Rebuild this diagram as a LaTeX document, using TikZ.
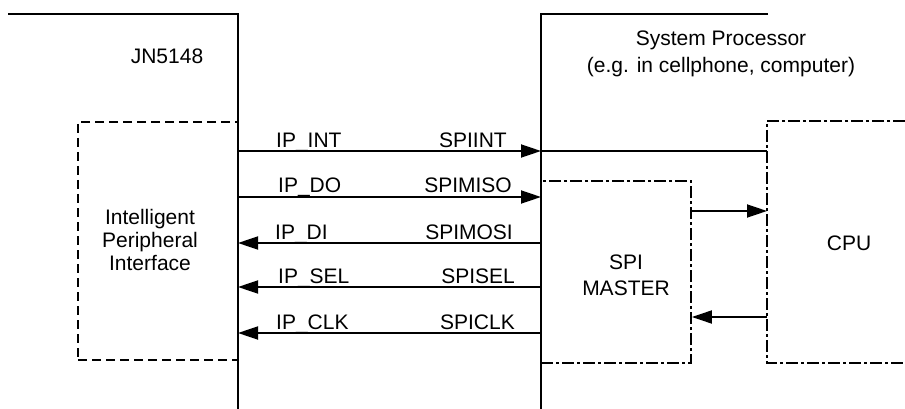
\documentclass[tikz,border=0pt]{standalone}
\usepackage{fontspec}
\setmainfont{Liberation Sans}
\usetikzlibrary{arrows.meta, positioning}

\begin{document}
\begin{tikzpicture}[
    x=1pt, y=-1pt,
    every node/.style={font=\fontsize{21}{23}\selectfont, inner sep=0pt},
    chip/.style={line width=2pt},
    ipbox/.style={draw, line width=2.8pt, dash pattern=on 9pt off 5pt},
    spibox/.style={draw, line width=1.8pt, dash pattern=on 12pt off 3pt on 3pt off 3pt},
    sig/.style={line width=1.8pt},
    arr/.style={sig, -{Triangle[length=20pt, width=13pt]}},
    lbl/.style={anchor=base west},
    rlbl/.style={anchor=base east},
]

\useasboundingbox (0,0) rectangle (905,409);

% JN5148 side
\draw[chip] (8,14) -- (238,14) -- (238,409);
\node (jn) at (167,56) {JN5148};
\node[ipbox, minimum width=160pt, minimum height=238pt] (ipi) at (158,241) {};
\node[align=center] (ipitxt) at (150,240) {Intelligent\\Peripheral\\Interface};

% system processor side
\draw[chip] (768,14) -- (541,14) -- (541,409);
\node[align=center, font=\fontsize{21}{27}\selectfont] (sys) at (721,54) {System Processor\\(e.g. in cellphone, computer)};
\node[spibox, minimum width=150pt, minimum height=182pt] (spi) at (616,272) {};
\node[align=center, font=\fontsize{21}{26}\selectfont] (spitxt) at (626,275) {SPI\\MASTER};
\draw[spibox] (905,121) -- (767,121) -- (767,363) -- (905,363);
\node (cpu) at (849,243) {CPU};

% pins
\coordinate (ipINT) at (238,151);
\coordinate (spINT) at (541,151);
\coordinate (cpuINT) at (767,151);
\coordinate (ipDO) at (238,197);
\coordinate (spDO) at (541,197);
\coordinate (ipDI) at (238,243);
\coordinate (spDI) at (541,243);
\coordinate (ipSEL) at (238,287);
\coordinate (spSEL) at (541,287);
\coordinate (ipCLK) at (238,333);
\coordinate (spCLK) at (541,333);
\coordinate (cpuIn) at (767,211);
\coordinate (cpuOut) at (767,317);

\draw[arr] (ipINT) -- (spINT);
\draw[sig] (spINT) -- (cpuINT);
\draw[arr] (ipDO) -- (spDO);
\draw[arr] (spDI) -- (ipDI);
\draw[arr] (spSEL) -- (ipSEL);
\draw[arr] (spCLK) -- (ipCLK);
\draw[arr] (spi.east |- cpuIn) -- (cpuIn);
\draw[arr] (cpuOut) -- (spi.east |- cpuOut);

\node[lbl] (lINT) at (276,147) {IP\_INT};
\node[rlbl] (rINT) at (507,147) {SPIINT};
\node[lbl] (lDO) at (278,193) {IP\_DO};
\node[rlbl] (rDO) at (512,193) {SPIMISO};
\node[lbl] (lDI) at (275,239) {IP\_DI};
\node[rlbl] (rDI) at (513,239) {SPIMOSI};
\node[lbl] (lSEL) at (278,283) {IP\_SEL};
\node[rlbl] (rSEL) at (515,283) {SPISEL};
\node[lbl] (lCLK) at (276,329) {IP\_CLK};
\node[rlbl] (rCLK) at (515,329) {SPICLK};

\end{tikzpicture}
\end{document}
